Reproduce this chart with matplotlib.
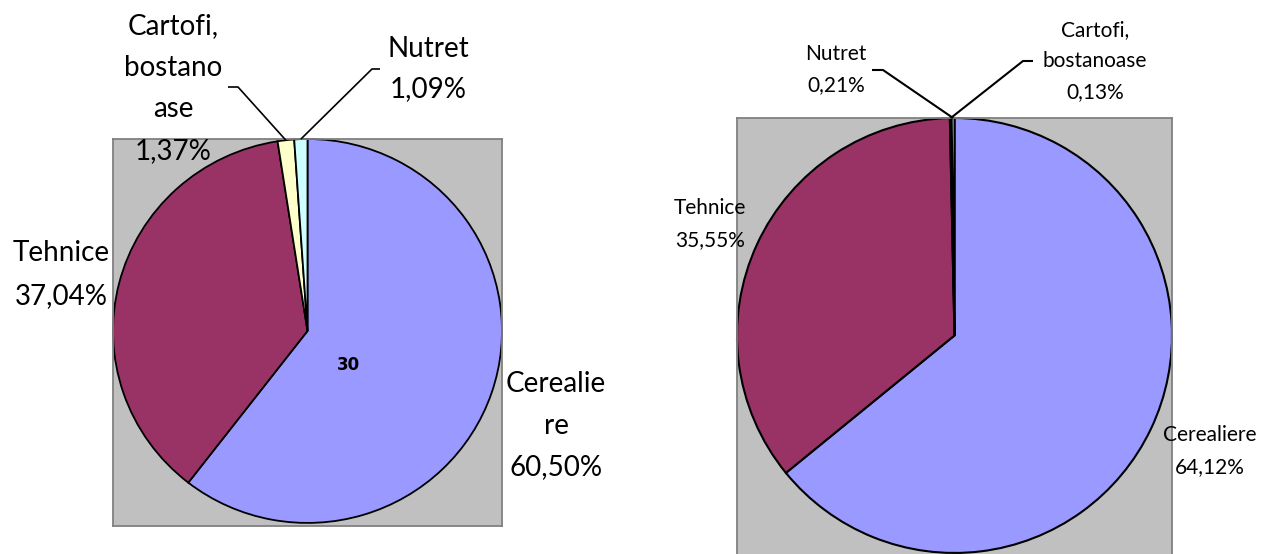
import matplotlib as mp
mp.use("Agg")
import matplotlib.pyplot as pyplot
import numpy as np

mp.rcParams['font.family'] = ['Lato', 'DejaVu Sans']

W, H = 1261, 554

# slice order: clockwise from 12 o'clock
categories = ["Cerealiere", "Tehnice", "Cartofi, bostanoase", "Nutret"]
colors = ["#9999FF", "#993366", "#FFFFCC", "#CCFFFF"]
values_left = [60.50, 37.04, 1.37, 1.09]
values_right = [64.12, 35.55, 0.13, 0.21]
center_tag = "30"

# wrapped name lines, as shown in each chart
names_left = [["Cerealie", "re"], ["Tehnice"], ["Cartofi,", "bostano", "ase"], ["Nutret"]]
names_right = [["Cerealiere"], ["Tehnice"], ["Cartofi,", "bostanoase"], ["Nutret"]]


def pct(v):
    return "{:.2f}%".format(v).replace(".", ",")


fig = pyplot.figure(figsize=(W / 100, H / 100), dpi=100)
over = fig.add_axes([0, 0, 1, 1])
over.set_xlim(0, W)
over.set_ylim(H, 0)
over.axis("off")
over.set_zorder(5)


def px_axes(x0, y0, x1, y1):
    return fig.add_axes([x0 / W, 1 - y1 / H, (x1 - x0) / W, (y1 - y0) / H])


def to_over(ax, pt):
    d = ax.transData.transform(pt)
    return over.transData.inverted().transform(d)


def draw_pie(box, ylo, values, lw):
    ax = px_axes(*box)
    wedges, _ = ax.pie(values, colors=colors, startangle=90, counterclock=False,
                       wedgeprops=dict(edgecolor="black", linewidth=lw))
    ax.set_aspect("auto")
    ax.set_xlim(-1, 1)
    ax.set_ylim(ylo, 1)
    ax.set_frame_on(True)
    ax.set_facecolor("#C0C0C0")
    for s in ax.spines.values():
        s.set_color("#808080")
        s.set_linewidth(1.3)
    ax.set_xticks([])
    ax.set_yticks([])
    return ax, wedges


def put_label(lines, cx, y0, step, size):
    for i, t in enumerate(lines):
        over.text(cx, y0 + i * step, t, fontsize=size, ha="center", va="center")


def leader(ax, wedge, start, elbow, lw):
    # leader goes from the label to the middle of the wedge's rim
    a = np.deg2rad((wedge.theta1 + wedge.theta2) / 2)
    ex, ey = to_over(ax, (np.cos(a), np.sin(a)))
    over.plot([start[0], elbow[0], ex], [start[1], elbow[1], ey],
              color="black", linewidth=lw, solid_capstyle="butt")


# ---- left chart
axL, wL = draw_pie((113, 139, 502, 526), -1.016, values_left, 1.3)
fsL = 20
put_label(names_left[0] + [pct(values_left[0])], 556, 384, 41.5, fsL)
put_label(names_left[1] + [pct(values_left[1])], 61, 253, 43, fsL)
put_label(names_left[2] + [pct(values_left[2])], 173, 26, 41.7, fsL)
put_label(names_left[3] + [pct(values_left[3])], 428, 49, 40, fsL)
leader(axL, wL[2], (228, 87), (238, 87), 1.2)
leader(axL, wL[3], (380, 69), (372, 69), 1.2)
over.text(348, 365, center_tag, fontsize=12, fontweight="bold", family=["DejaVu Sans"],
          ha="center", va="center")

# ---- right chart
axR, wR = draw_pie((737, 118, 1172, 556), -1.014, values_right, 1.5)
fsR = 15
put_label(names_right[0] + [pct(values_right[0])], 1210, 435, 32, fsR)
put_label(names_right[1] + [pct(values_right[1])], 710, 208, 32, fsR)
put_label(names_right[2] + [pct(values_right[2])], 1095, 30, 31, fsR)
put_label(names_right[3] + [pct(values_right[3])], 836, 54, 31, fsR)
leader(axR, wR[3], (872, 70), (883, 70), 1.5)
leader(axR, wR[2], (1033, 61), (1023, 61), 1.5)

pyplot.savefig("out.png", dpi=100)
